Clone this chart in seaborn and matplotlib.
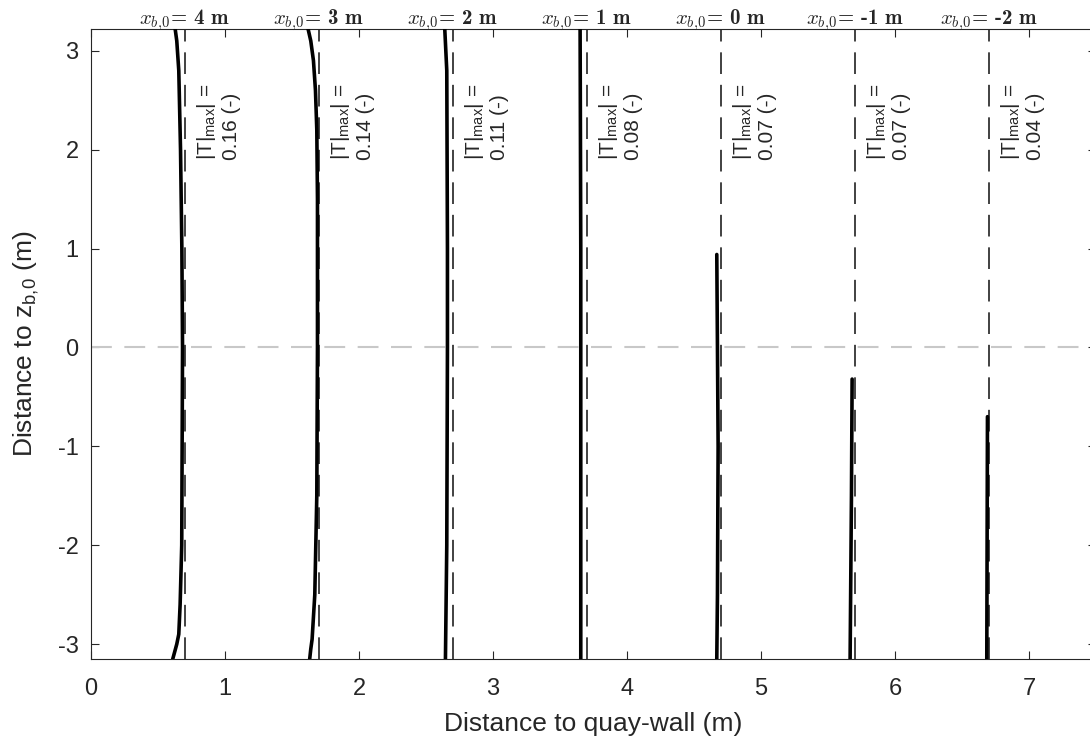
import numpy as np
import pandas as pd
import matplotlib
matplotlib.use("Agg")
import matplotlib.pyplot as plt
import seaborn as sns

sns.set_theme(style="ticks")
plt.rcParams['font.family'] = ['Liberation Sans', 'DejaVu Sans']
plt.rcParams['mathtext.fontset'] = 'custom'
plt.rcParams['mathtext.rm'] = 'Liberation Sans'
plt.rcParams['mathtext.it'] = 'Liberation Sans:italic'
plt.rcParams['axes.unicode_minus'] = False

# breaker position labels and max |T| per case
xb0_labels = ['4', '3', '2', '1', '0', '-1', '-2']
tmax = ['0.16', '0.14', '0.11', '0.08', '0.07', '0.07', '0.04']
wall_x = [0.7, 1.7, 2.7, 3.7, 4.7, 5.7, 6.7]

# profiles (x = distance to quay-wall, z = distance to z_b0)
x1 = [0.628, 0.64, 0.655, 0.668, 0.678, 0.683, 0.68, 0.677, 0.665, 0.655, 0.64, 0.61]
z1 = [3.22, 3.1, 2.8, 2.0, 1.0, 0.0, -1.0, -2.0, -2.6, -2.9, -3.0, -3.15]
x2 = [1.62, 1.64, 1.66, 1.675, 1.685, 1.69, 1.69, 1.685, 1.67, 1.65, 1.64, 1.632]
z2 = [3.22, 3.1, 2.9, 2.6, 2.2, 1.5, 0.0, -1.5, -2.5, -2.95, -3.05, -3.15]
x3 = [2.64, 2.655, 2.66, 2.66, 2.655, 2.645]
z3 = [3.22, 2.8, 1.0, 0.0, -2.0, -3.15]
x4 = [3.65, 3.655, 3.655, 3.655]
z4 = [3.22, 1.0, 0.0, -3.15]
x5 = [4.67, 4.675, 4.68, 4.675, 4.67]
z5 = [0.94, 0.0, -1.0, -2.5, -3.15]
x6 = [5.68, 5.675, 5.665]
z6 = [-0.32, -1.5, -3.15]
x7 = [6.69, 6.685]
z7 = [-0.70, -3.15]

profiles = [(x1, z1), (x2, z2), (x3, z3), (x4, z4), (x5, z5), (x6, z6), (x7, z7)]

fig = plt.figure(figsize=(10.9, 7.4), dpi=100)
ax = fig.add_axes([0.0835, 0.1095, 0.922, 0.8513])

ax.axhline(0, color='#c8c8c8', lw=1.5, dashes=(10, 6), zorder=1)

for i, (xs, zs) in enumerate(profiles):
    df = pd.DataFrame({'x': xs, 'z': zs})
    sns.lineplot(data=df, x='x', y='z', sort=False, estimator=None,
                 color='black', lw=2.6, ax=ax, zorder=3)
    ax.axvline(wall_x[i], color='#333333', lw=1.3, dashes=(12, 6), zorder=2)
    ax.text(wall_x[i], 3.265, r'$x_{b,\!0}$' + '= ' + xb0_labels[i] + ' m',
            ha='center', va='baseline', fontsize=15, math_fontfamily='cm',
            family=['cmb10', 'DejaVu Serif'])
    ax.text(wall_x[i] + 0.075, 1.9,
            r'|T|$_{\mathrm{max}}$| =' + '\n' + tmax[i] + ' (-)',
            rotation=90, rotation_mode='anchor', ha='left', va='top',
            fontsize=15, linespacing=1.3)

ax.set_xlim(0, 7.5)
ax.set_ylim(-3.15, 3.22)
ax.set_xticks(range(0, 8))
ax.set_yticks(range(-3, 4))
ax.tick_params(direction='in', top=True, right=True, labelsize=17,
               length=6, width=0.8, color='#262626')
ax.tick_params(axis='x', pad=14)
ax.tick_params(axis='y', pad=9)
for s in ax.spines.values():
    s.set_color('#262626')
    s.set_linewidth(0.8)
ax.set_xlabel('Distance to quay-wall (m)', fontsize=19, labelpad=8)
ax.set_ylabel(r'Distance to z$_{\mathrm{b,\!0}}$ (m)', fontsize=19, labelpad=12)

fig.savefig('out.png', dpi=100)
